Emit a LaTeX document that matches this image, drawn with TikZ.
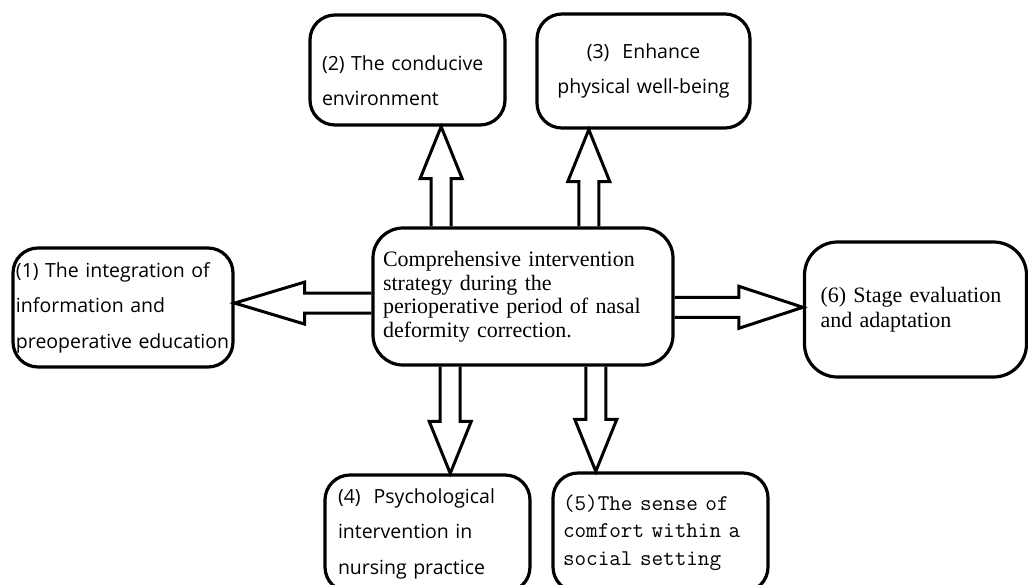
\documentclass[tikz,border=0pt]{standalone}
\usepackage{fontspec}
\usetikzlibrary{calc}
\newfontfamily\boxsans{Open Sans}
\newfontfamily\boxserif{Liberation Serif}
\hyphenpenalty=10000
\exhyphenpenalty=10000

\tikzset{
  box/.style={draw, line width=3.2pt, rounded corners=25pt, inner ysep=0pt, align=left},
  sansbox/.style={box, font=\boxsans\fontsize{19.5}{35.5}\selectfont},
  serifbox/.style={box, rounded corners=30pt, font=\boxserif\fontsize{22}{23.5}\selectfont},
  monobox/.style={box, font=\ttfamily\fontsize{22.5}{27.5}\selectfont},
  hollow/.style={line width=3pt, line join=miter},
}

% hollow block arrow: [head length]{start}{tip}
\newcommand{\blockarrow}[3][52pt]{%
  \path (#3) coordinate (tip) ($(#3)!#1!(#2)$) coordinate (hb);
  \draw[hollow] ($(#2)!10pt!90:(tip)$) -- ($(hb)!10pt!90:(tip)$) -- ($(hb)!21pt!90:(tip)$)
    -- (tip) -- ($(hb)!21pt!-90:(tip)$) -- ($(hb)!10pt!-90:(tip)$) -- ($(#2)!10pt!-90:(tip)$);
}

\begin{document}
\begin{tikzpicture}[x=1pt, y=-1pt]
  \useasboundingbox (0,0) rectangle (1028,584);

  % centre
  \node[serifbox, inner xsep=10pt, text width=280pt, minimum height=137pt] (ctr) at (523,296.5)
    {Comprehensive intervention\\ strategy during the\\ perioperative period of nasal\\ deformity correction.};

  % the six measures
  \node[sansbox, inner xsep=3pt, text width=214pt, minimum height=119pt] (m1) at (123,307.5)
    {(1) The integration of\\ information and\\ preoperative education};
  \node[sansbox, inner xsep=12pt, text width=171pt, minimum height=110pt] (m2) at (407.5,70)
    {\rule{0pt}{36pt}(2) The conducive\\ environment};
  \node[sansbox, align=center, inner xsep=8pt, text width=197pt, minimum height=114pt] (m3) at (643.5,71)
    {(3)\ \ Enhance\\ physical well-being};
  \node[sansbox, inner xsep=13pt, text width=179pt, minimum height=117pt] (m4) at (427.5,533.5)
    {(4)\ \ Psychological\\ intervention in\\ nursing practice};
  \node[monobox, inner xsep=10pt, text width=195pt, minimum height=119pt] (m5) at (660.5,532.5)
    {(5)The sense of\\ comfort within a\\ social setting};
  \node[serifbox, rounded corners=33pt, font=\boxserif\fontsize{22}{25}\selectfont,
        inner xsep=16pt, text width=190pt, minimum height=135pt] (m6) at (915.5,309.5)
    {(6) Stage evaluation\\ and adaptation};

  % start points on the centre box
  \coordinate (s2) at ($(ctr.north west)!0.23!(ctr.north east)$);
  \coordinate (s3) at ($(ctr.north west)!0.717!(ctr.north east)$);
  \coordinate (s4) at ($(ctr.south west)!0.26!(ctr.south east)$);
  \coordinate (s5) at ($(ctr.south west)!0.74!(ctr.south east)$);
  \coordinate (s1) at ($(ctr.north west)!0.547!(ctr.south west)$);
  \coordinate (s6) at ($(ctr.north east)!0.577!(ctr.south east)$);

  \blockarrow{s2}{s2 |- m2.south}
  \blockarrow{s3}{s3 |- m3.south}
  \blockarrow{s4}{s4 |- m4.north}
  \blockarrow{s5}{s5 |- m5.north}
  \blockarrow[70pt]{s1}{s1 -| m1.east}
  \blockarrow[64pt]{s6}{s6 -| m6.west}
\end{tikzpicture}
\end{document}
